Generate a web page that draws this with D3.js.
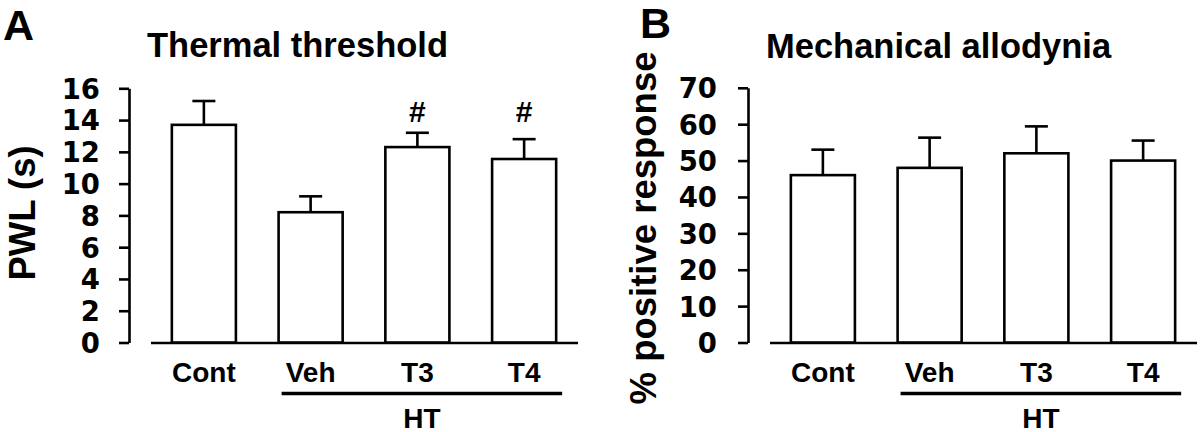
<!DOCTYPE html>
<html>
<head>
<meta charset="utf-8">
<script src="https://cdn.jsdelivr.net/npm/d3@7"></script>
<style>
  html, body { margin: 0; padding: 0; background: #fff; }
  svg { display: block; }
</style>
</head>
<body>
<svg id="chart" width="1200" height="432"></svg>
<script>
// ---------- data ----------
const categories = ["Cont", "Veh", "T3", "T4"];
const hiGroup = ["Veh", "T3", "T4"];          // bracketed "HT" groups
const groupLabel = "HT";

const thermalMean = [13.7, 8.2, 12.3, 11.55];
const thermalSem  = [1.5, 1.0, 0.9, 1.25];
const thermalSig  = ["", "", "#", "#"];
const thermalSigLevel = 13.9;
const thermalTicks = [0, 2, 4, 6, 8, 10, 12, 14, 16];

const mechMean = [46, 48, 52, 50];
const mechSem  = [7, 8.3, 7.4, 5.5];
const mechTicks = [0, 10, 20, 30, 40, 50, 60, 70];

const panels = [
  { letter: "A", title: "Thermal threshold", ylabel: "PWL (s)",
    mean: thermalMean, sem: thermalSem, sig: thermalSig, sigLevel: thermalSigLevel,
    ticks: thermalTicks, ymax: 16 },
  { letter: "B", title: "Mechanical allodynia", ylabel: "% positive response",
    mean: mechMean, sem: mechSem, sig: null, sigLevel: null,
    ticks: mechTicks, ymax: 70 }
];

// ---------- layout ----------
const layout = [
  { axisX: 129, xr: [150.5, 577.5], yr: [342.5, 88.3], letterX: 3, letterY: 40,
    titleX: 147, titleY: 57, ylabX: 35, ylabY: 213, tickLabR: 100 },
  { axisX: 748, xr: [769.5, 1196.5], yr: [342.5, 87.8], letterX: 640, letterY: 38,
    titleX: 766, titleY: 58, ylabX: 656, ylabY: 228, tickLabR: 717 }
];

const svg = d3.select("#chart");
const FONT = "'Liberation Sans', Arial, Helvetica, sans-serif";
const TICKFONT = "'DejaVu Sans', 'Liberation Sans', sans-serif";
const SW = 2.6;

panels.forEach((p, i) => {
  const L = layout[i];
  const g = svg.append("g");

  const x = d3.scaleBand().domain(categories).range(L.xr).paddingInner(0.4).paddingOuter(0.2);
  const y = d3.scaleLinear().domain([0, p.ymax]).range(L.yr);
  const bw = x.bandwidth();

  // panel letter
  g.append("text").attr("x", L.letterX).attr("y", L.letterY)
    .attr("font-family", FONT).attr("font-weight", "bold").attr("font-size", 43)
    .text(p.letter);

  // title
  g.append("text").attr("x", L.titleX).attr("y", L.titleY)
    .attr("font-family", FONT).attr("font-weight", "bold").attr("font-size", 34.5)
    .text(p.title);

  // y label
  g.append("text")
    .attr("transform", `translate(${L.ylabX},${L.ylabY}) rotate(-90)`)
    .attr("text-anchor", "middle")
    .attr("font-family", FONT).attr("font-weight", "bold").attr("font-size", 36.5)
    .text(p.ylabel);

  // y axis
  const yAxis = d3.axisLeft(y).tickValues(p.ticks).tickSize(10).tickSizeOuter(0).tickPadding(0);
  const ya = g.append("g").attr("transform", `translate(${L.axisX},0)`).call(yAxis);
  ya.selectAll("path.domain").attr("stroke", "#000").attr("stroke-width", SW);
  ya.selectAll(".tick line").attr("stroke", "#000").attr("stroke-width", SW);
  ya.selectAll(".tick text")
    .attr("x", L.tickLabR - L.axisX)
    .attr("dy", "0.36em")
    .attr("fill", "#000")
    .attr("font-family", TICKFONT).attr("font-weight", "bold").attr("font-size", 27.5);

  // x axis (baseline with category labels)
  const xAxis = d3.axisBottom(x).tickSize(0).tickSizeOuter(0).tickPadding(0);
  const xa = g.append("g").attr("transform", `translate(0,${L.yr[0]})`).call(xAxis);
  xa.selectAll("path.domain").attr("stroke", "#000").attr("stroke-width", SW);
  xa.selectAll(".tick text")
    .attr("y", 39).attr("dy", 0)
    .attr("fill", "#000")
    .attr("font-family", FONT).attr("font-weight", "bold").attr("font-size", 28);

  // error bars
  const eg = g.append("g");
  categories.forEach((c, j) => {
    const cx = x(c) + bw / 2;
    eg.append("line")
      .attr("x1", cx).attr("x2", cx)
      .attr("y1", y(p.mean[j])).attr("y2", y(p.mean[j] + p.sem[j]))
      .attr("stroke", "#000").attr("stroke-width", SW);
    eg.append("line")
      .attr("x1", cx - 11.5).attr("x2", cx + 11.5)
      .attr("y1", y(p.mean[j] + p.sem[j])).attr("y2", y(p.mean[j] + p.sem[j]))
      .attr("stroke", "#000").attr("stroke-width", SW);
  });

  // bars
  g.append("g").selectAll("rect").data(categories).join("rect")
    .attr("x", c => x(c))
    .attr("y", (c, j) => y(p.mean[j]))
    .attr("width", bw)
    .attr("height", (c, j) => y(0) - y(p.mean[j]))
    .attr("fill", "#fff").attr("stroke", "#000").attr("stroke-width", SW);

  // significance marks
  if (p.sig) {
    g.append("g").selectAll("text").data(categories).join("text")
      .attr("x", c => x(c) + bw / 2)
      .attr("y", y(p.sigLevel))
      .attr("text-anchor", "middle")
      .attr("font-family", FONT).attr("font-weight", "bold").attr("font-size", 30)
      .text((c, j) => p.sig[j]);
  }

  // HT bracket line
  const hx1 = x(hiGroup[0]) + 3;
  const hx2 = x(hiGroup[hiGroup.length - 1]) + bw + 6;
  g.append("line")
    .attr("x1", hx1).attr("x2", hx2)
    .attr("y1", L.yr[0] + 51).attr("y2", L.yr[0] + 51)
    .attr("stroke", "#000").attr("stroke-width", 3.3);
  g.append("text")
    .attr("x", (hx1 + hx2) / 2).attr("y", L.yr[0] + 85)
    .attr("text-anchor", "middle")
    .attr("font-family", FONT).attr("font-weight", "bold").attr("font-size", 28)
    .text(groupLabel);
});
</script>
</body>
</html>
